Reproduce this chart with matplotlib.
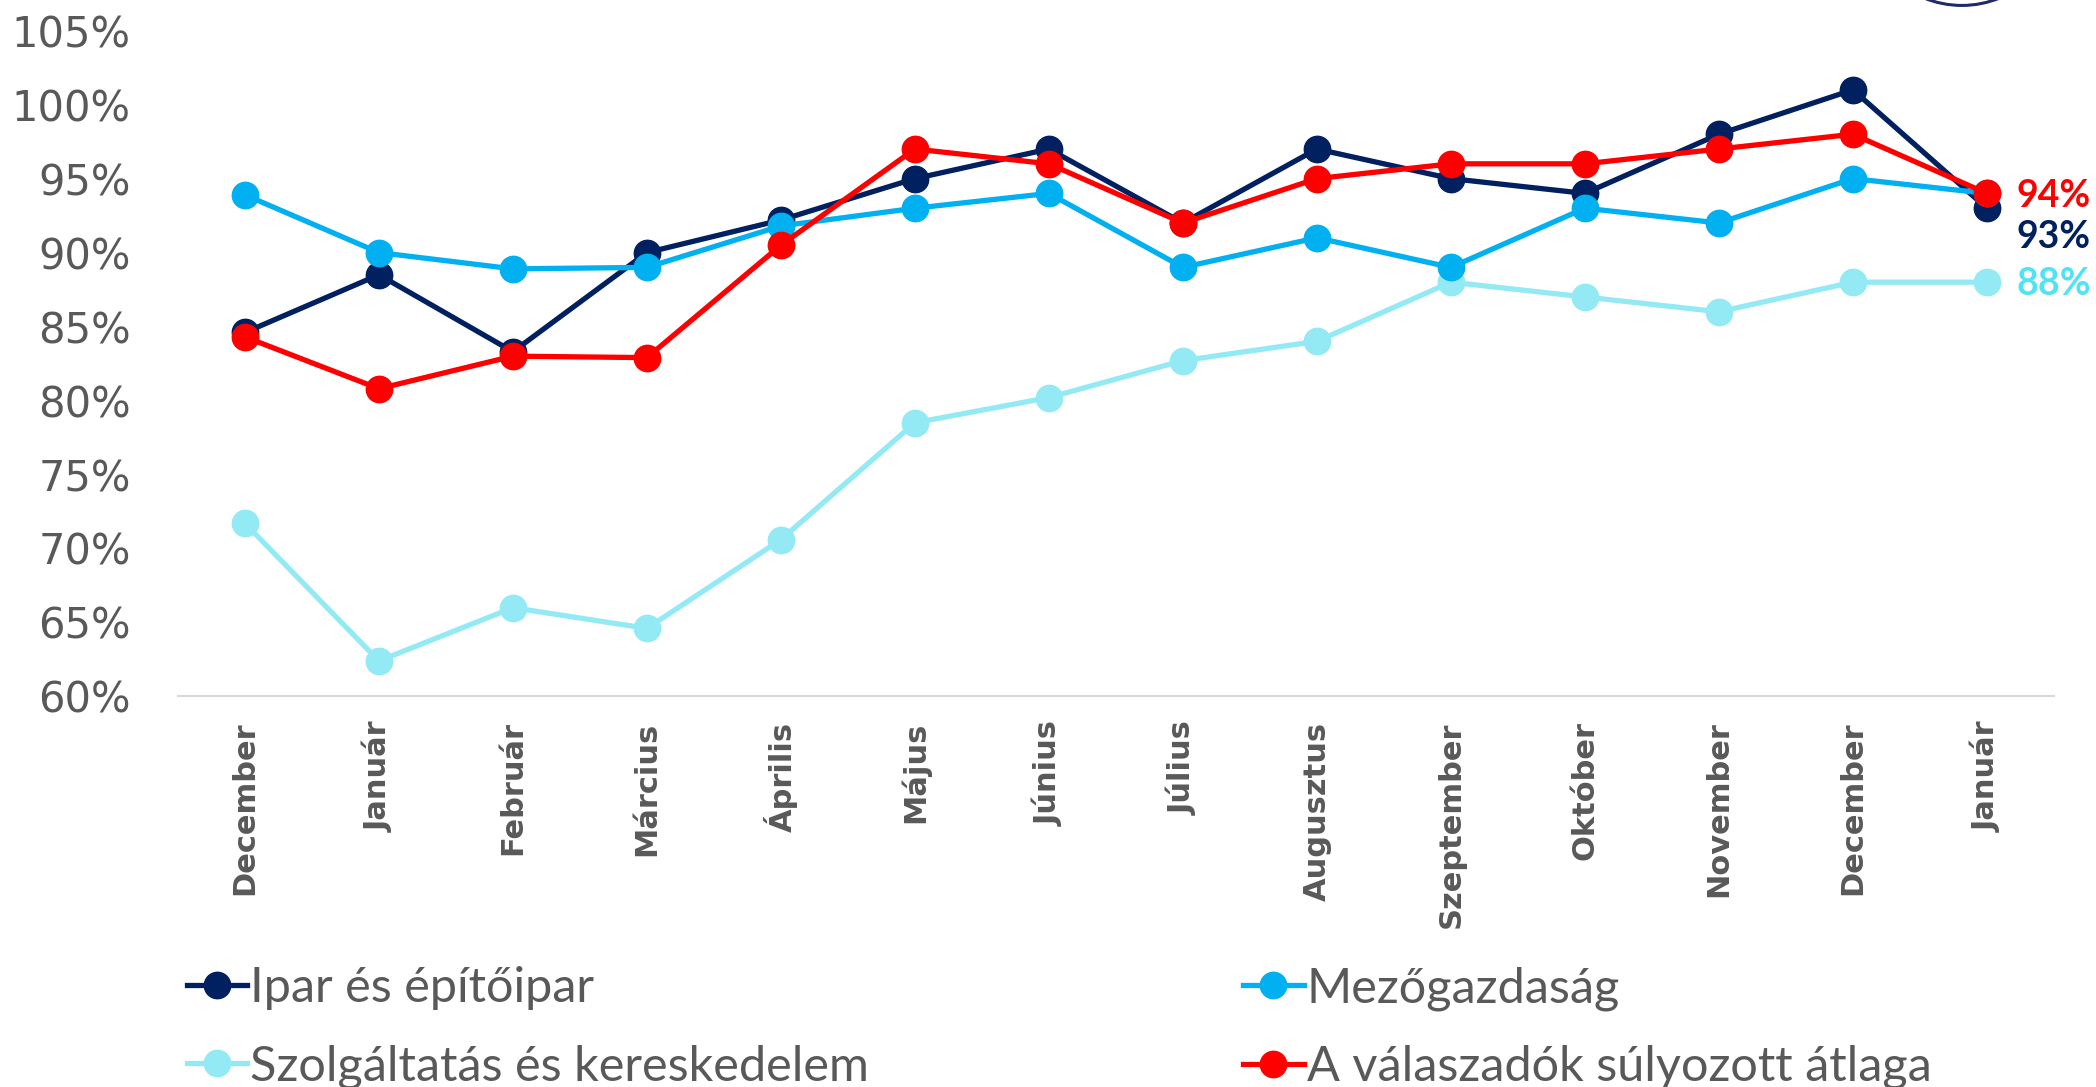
import numpy as np
import matplotlib.pyplot as plt
from matplotlib.patches import Ellipse


months = ["December", "Január", "Február", "Március", "Április", "Május", "Június",
          "Július", "Augusztus", "Szeptember", "Október", "November", "December", "Január"]

ipar = [84.6, 88.5, 83.3, 90.0, 92.2, 95.0, 97.0, 92.0, 97.0, 95.0, 94.0, 98.0, 101.0, 93.0]
mezo = [93.9, 90.0, 88.9, 89.0, 91.8, 93.0, 94.0, 89.0, 91.0, 89.0, 93.0, 92.0, 95.0, 94.0]
szolg = [71.7, 62.4, 66.0, 64.6, 70.6, 78.5, 80.2, 82.7, 84.0, 88.0, 87.0, 86.0, 88.0, 88.0]
atlag = [84.3, 80.8, 83.0, 82.9, 90.5, 97.0, 96.0, 92.0, 95.0, 96.0, 96.0, 97.0, 98.0, 94.0]

series_names = ["Ipar és építőipar", "Mezőgazdaság", "Szolgáltatás és kereskedelem",
                "A válaszadók súlyozott átlaga"]

NAVY = "#002060"
BLUE = "#00B0F0"
PALE = "#93EAF4"
RED = "#FF0000"
GREY = "#595959"

fig = plt.figure(figsize=(20.96, 10.87), dpi=100)
ax = fig.add_axes([0.0849, 0.3593, 0.895, 0.6125])

x = np.arange(len(months))
lines = {}
# drawing order: pale, navy, blue, red on top
for name, vals, col in [(series_names[2], szolg, PALE), (series_names[0], ipar, NAVY),
                        (series_names[1], mezo, BLUE), (series_names[3], atlag, RED)]:
    ln, = ax.plot(x, vals, color=col, lw=3.8, marker="o", ms=19, mec=col, mfc=col,
                  solid_joinstyle="round", label=name)
    lines[name] = ln

ax.set_xlim(-0.5, 13.5)
ax.set_ylim(60, 105)
ax.set_yticks(np.arange(60, 106, 5))
ax.set_yticklabels([f"{v}%" for v in range(60, 106, 5)], fontsize=30, color=GREY)
ax.set_xticks(x)
ax.set_xticklabels(months, rotation=90, fontsize=22, fontweight="bold", color=GREY)
ax.tick_params(axis="y", length=0, pad=34)
ax.tick_params(axis="x", length=0, pad=18)
for s in ["top", "right", "left"]:
    ax.spines[s].set_visible(False)
ax.spines["bottom"].set_color("#D9D9D9")
ax.spines["bottom"].set_linewidth(1.5)

# end-of-line labels
lab_font = dict(fontsize=27, fontweight="bold", family="Lato")
ax.annotate("94%", xy=(x[-1], atlag[-1]), xytext=(30, -3), textcoords="offset pixels",
            va="center", ha="left", color=RED, **lab_font)
ax.annotate("93%", xy=(x[-1], ipar[-1]), xytext=(30, -29), textcoords="offset pixels",
            va="center", ha="left", color=NAVY, **lab_font)
ax.annotate("88%", xy=(x[-1], szolg[-1]), xytext=(30, -2), textcoords="offset pixels",
            va="center", ha="left", color="#4FE3F6", **lab_font)

# legend, two columns
leg_kw = dict(frameon=False, handlelength=1.25, handletextpad=0.06, labelspacing=0.7,
              borderpad=0, prop={"family": "Lato", "size": 35}, labelcolor=GREY,
              borderaxespad=0)
leg1 = fig.legend([lines[series_names[0]], lines[series_names[2]]],
                  [series_names[0], series_names[2]], loc="upper left",
                  bbox_to_anchor=(0.089, 0.111), **leg_kw)
leg2 = fig.legend([lines[series_names[1]], lines[series_names[3]]],
                  [series_names[1], series_names[3]], loc="upper left",
                  bbox_to_anchor=(0.593, 0.111), **leg_kw)

# partial logo ring at top right
fig.patches.append(Ellipse((0.936, 1.087), 0.0954, 0.184, transform=fig.transFigure,
                           fill=False, ec="#1F2A6B", lw=2.2))

fig.savefig("out.png", dpi=100)
